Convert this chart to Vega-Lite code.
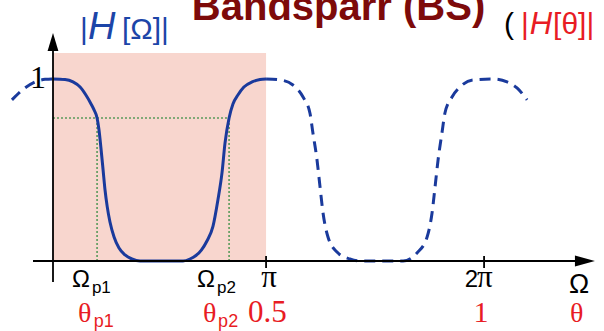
{
  "$schema": "https://vega.github.io/schema/vega-lite/v6.json",
  "width": 604,
  "height": 331,
  "padding": 0,
  "autosize": {"type": "none"},
  "background": "white",
  "config": {"view": {"stroke": null}},
  "encoding": {
    "x": {"field": "x", "type": "quantitative", "scale": {"domain": [-0.24651, 2.56279], "nice": false, "zero": false}, "axis": null},
    "y": {"field": "y", "type": "quantitative", "scale": {"domain": [-0.38462, 1.43407], "nice": false, "zero": false}, "axis": null}
  },
  "layer": [
    {
      "data": {"values": [{"x": 0, "x2": 0.991, "y": 0, "y2": 1.143}]},
      "mark": {"type": "rect", "color": "#f8d6ce"},
      "encoding": {"x2": {"field": "x2"}, "y2": {"field": "y2"}}
    },
    {
      "data": {"values": [
        {"x": 0, "x2": 0.819, "y": 0.786, "y2": 0.786},
        {"x": 0.205, "x2": 0.205, "y": 0, "y2": 0.786},
        {"x": 0.819, "x2": 0.819, "y": 0, "y2": 0.786}
      ]},
      "mark": {"type": "rule", "color": "#5a9a5a", "strokeWidth": 1.6, "strokeDash": [2, 2]},
      "encoding": {"x2": {"field": "x2"}, "y2": {"field": "y2"}}
    },
    {
      "data": {"values": [
        {"x": 0, "y": 1}, {"x": 0.056, "y": 0.997}, {"x": 0.093, "y": 0.984}, {"x": 0.126, "y": 0.956},
        {"x": 0.153, "y": 0.912}, {"x": 0.177, "y": 0.863}, {"x": 0.191, "y": 0.83}, {"x": 0.205, "y": 0.786},
        {"x": 0.214, "y": 0.72}, {"x": 0.223, "y": 0.621}, {"x": 0.233, "y": 0.5}, {"x": 0.242, "y": 0.39},
        {"x": 0.252, "y": 0.3}, {"x": 0.265, "y": 0.214}, {"x": 0.284, "y": 0.132}, {"x": 0.307, "y": 0.071},
        {"x": 0.335, "y": 0.033}, {"x": 0.367, "y": 0.011}, {"x": 0.405, "y": 0}, {"x": 0.605, "y": 0},
        {"x": 0.637, "y": 0.011}, {"x": 0.665, "y": 0.03}, {"x": 0.69, "y": 0.06}, {"x": 0.716, "y": 0.11},
        {"x": 0.744, "y": 0.19}, {"x": 0.767, "y": 0.335}, {"x": 0.786, "y": 0.484}, {"x": 0.8, "y": 0.648},
        {"x": 0.819, "y": 0.786}, {"x": 0.837, "y": 0.863}, {"x": 0.86, "y": 0.912}, {"x": 0.888, "y": 0.956},
        {"x": 0.926, "y": 0.984}, {"x": 0.963, "y": 0.997}, {"x": 0.991, "y": 1}
      ]},
      "mark": {"type": "line", "color": "#1a3a9c", "strokeWidth": 3, "interpolate": "monotone"}
    },
    {
      "data": {"values": [
        {"seg": "L", "x": -0.191, "y": 0.885}, {"seg": "L", "x": -0.13, "y": 0.951}, {"seg": "L", "x": -0.084, "y": 0.984},
        {"seg": "L", "x": -0.037, "y": 0.998}, {"seg": "L", "x": 0, "y": 1},
        {"seg": "R", "x": 0.991, "y": 1}, {"seg": "R", "x": 1.056, "y": 0.995}, {"seg": "R", "x": 1.116, "y": 0.967},
        {"seg": "R", "x": 1.163, "y": 0.901}, {"seg": "R", "x": 1.195, "y": 0.813}, {"seg": "R", "x": 1.209, "y": 0.703},
        {"seg": "R", "x": 1.228, "y": 0.555}, {"seg": "R", "x": 1.242, "y": 0.407}, {"seg": "R", "x": 1.256, "y": 0.264},
        {"seg": "R", "x": 1.279, "y": 0.132}, {"seg": "R", "x": 1.321, "y": 0.049}, {"seg": "R", "x": 1.381, "y": 0.011},
        {"seg": "R", "x": 1.428, "y": 0}, {"seg": "R", "x": 1.628, "y": 0}, {"seg": "R", "x": 1.693, "y": 0.044},
        {"seg": "R", "x": 1.74, "y": 0.132}, {"seg": "R", "x": 1.763, "y": 0.264}, {"seg": "R", "x": 1.777, "y": 0.407},
        {"seg": "R", "x": 1.791, "y": 0.555}, {"seg": "R", "x": 1.809, "y": 0.703}, {"seg": "R", "x": 1.823, "y": 0.813},
        {"seg": "R", "x": 1.856, "y": 0.901}, {"seg": "R", "x": 1.893, "y": 0.956}, {"seg": "R", "x": 1.953, "y": 0.995},
        {"seg": "R", "x": 2.047, "y": 1}, {"seg": "R", "x": 2.112, "y": 0.984}, {"seg": "R", "x": 2.158, "y": 0.951},
        {"seg": "R", "x": 2.205, "y": 0.885}
      ]},
      "mark": {"type": "line", "color": "#1a3a9c", "strokeWidth": 3, "strokeDash": [11, 7], "interpolate": "monotone"},
      "encoding": {"detail": {"field": "seg", "type": "nominal"}}
    },
    {
      "data": {"values": [
        {"x": -0.093, "x2": 2.46, "y": 0, "y2": 0},
        {"x": 0, "x2": 0, "y": -0.115, "y2": 1.17},
        {"x": 0.991, "x2": 0.991, "y": 0.027, "y2": -0.038},
        {"x": 2.005, "x2": 2.005, "y": 0.027, "y2": -0.038}
      ]},
      "mark": {"type": "rule", "color": "black", "strokeWidth": 1.8},
      "encoding": {"x2": {"field": "x2"}, "y2": {"field": "y2"}}
    },
    {
      "data": {"values": [{"x": 2.474, "y": 0}]},
      "mark": {"type": "point", "shape": "M1,0L-1,-0.55L-1,0.55Z", "size": 400, "filled": true, "color": "black", "opacity": 1}
    },
    {
      "data": {"values": [{"x": 0, "y": 1.203}]},
      "mark": {"type": "point", "shape": "M0,-1L-0.6,1L0.6,1Z", "size": 324, "filled": true, "color": "black", "opacity": 1}
    },
    {
      "data": {"values": [{"x": 1.328, "y": 1.324, "t": "Bandsparr (BS)"}]},
      "mark": {"type": "text", "font": "Liberation Sans", "fontSize": 40, "fontWeight": "bold", "color": "#7d0a0a", "align": "center", "baseline": "alphabetic"},
      "encoding": {"text": {"field": "t"}}
    },
    {
      "data": {"values": [{"x": 0.126, "y": 1.22, "t": "|"}, {"x": 0.321, "y": 1.22, "t": "[Ω]|"}]},
      "mark": {"type": "text", "font": "Liberation Sans", "fontSize": 30, "color": "#1c45a8", "align": "left", "baseline": "alphabetic"},
      "encoding": {"text": {"field": "t"}}
    },
    {
      "data": {"values": [{"x": 0.163, "y": 1.22, "t": "H"}]},
      "mark": {"type": "text", "font": "Liberation Sans", "fontSize": 38, "fontStyle": "italic", "color": "#1c45a8", "align": "left", "baseline": "alphabetic"},
      "encoding": {"text": {"field": "t"}}
    },
    {
      "data": {"values": [{"x": 2.098, "y": 1.247, "t": "("}]},
      "mark": {"type": "text", "font": "Liberation Sans", "fontSize": 30, "color": "black", "align": "left", "baseline": "alphabetic"},
      "encoding": {"text": {"field": "t"}}
    },
    {
      "data": {"values": [{"x": 2.177, "y": 1.247, "t": "|"}, {"x": 2.326, "y": 1.247, "t": "[θ]|"}]},
      "mark": {"type": "text", "font": "Liberation Sans", "fontSize": 30, "color": "#e81c24", "align": "left", "baseline": "alphabetic"},
      "encoding": {"text": {"field": "t"}}
    },
    {
      "data": {"values": [{"x": 2.217, "y": 1.247, "t": "H"}]},
      "mark": {"type": "text", "font": "Liberation Sans", "fontSize": 31, "fontStyle": "italic", "color": "#e81c24", "align": "left", "baseline": "alphabetic"},
      "encoding": {"text": {"field": "t"}}
    },
    {
      "data": {"values": [{"x": -0.07, "y": 0.952, "t": "1"}]},
      "mark": {"type": "text", "font": "Liberation Serif", "fontSize": 32, "color": "black", "align": "center", "baseline": "alphabetic"},
      "encoding": {"text": {"field": "t"}}
    },
    {
      "data": {"values": [{"x": 0.088, "y": -0.143, "t": "Ω"}, {"x": 0.67, "y": -0.143, "t": "Ω"}]},
      "mark": {"type": "text", "font": "Liberation Sans", "fontSize": 24, "color": "black", "align": "left", "baseline": "alphabetic"},
      "encoding": {"text": {"field": "t"}}
    },
    {
      "data": {"values": [{"x": 0.181, "y": -0.176, "t": "p1"}, {"x": 0.763, "y": -0.176, "t": "p2"}]},
      "mark": {"type": "text", "font": "Liberation Sans", "fontSize": 17, "color": "black", "align": "left", "baseline": "alphabetic"},
      "encoding": {"text": {"field": "t"}}
    },
    {
      "data": {"values": [{"x": 1.005, "y": -0.143, "t": "π"}]},
      "mark": {"type": "text", "font": "Liberation Serif", "fontSize": 31, "color": "black", "align": "center", "baseline": "alphabetic"},
      "encoding": {"text": {"field": "t"}}
    },
    {
      "data": {"values": [{"x": 1.972, "y": -0.143, "t": "π"}]},
      "mark": {"type": "text", "font": "Liberation Serif", "fontSize": 31, "color": "black", "align": "left", "baseline": "alphabetic"},
      "encoding": {"text": {"field": "t"}}
    },
    {
      "data": {"values": [{"x": 1.977, "y": -0.143, "t": "2"}]},
      "mark": {"type": "text", "font": "Liberation Sans", "fontSize": 24, "color": "black", "align": "right", "baseline": "alphabetic"},
      "encoding": {"text": {"field": "t"}}
    },
    {
      "data": {"values": [{"x": 2.4, "y": -0.176, "t": "Ω"}]},
      "mark": {"type": "text", "font": "Liberation Sans", "fontSize": 27, "color": "black", "align": "left", "baseline": "alphabetic"},
      "encoding": {"text": {"field": "t"}}
    },
    {
      "data": {"values": [{"x": 0.116, "y": -0.335, "t": "θ"}, {"x": 0.698, "y": -0.335, "t": "θ"}, {"x": 2.405, "y": -0.335, "t": "θ"}]},
      "mark": {"type": "text", "font": "Liberation Serif", "fontSize": 28, "color": "#e81c24", "align": "left", "baseline": "alphabetic"},
      "encoding": {"text": {"field": "t"}}
    },
    {
      "data": {"values": [{"x": 0.19, "y": -0.363, "t": "p1"}, {"x": 0.768, "y": -0.363, "t": "p2"}]},
      "mark": {"type": "text", "font": "Liberation Sans", "fontSize": 18, "color": "#e81c24", "align": "left", "baseline": "alphabetic"},
      "encoding": {"text": {"field": "t"}}
    },
    {
      "data": {"values": [{"x": 0.907, "y": -0.335, "t": "0.5"}]},
      "mark": {"type": "text", "font": "Liberation Serif", "fontSize": 31, "color": "#e81c24", "align": "left", "baseline": "alphabetic"},
      "encoding": {"text": {"field": "t"}}
    },
    {
      "data": {"values": [{"x": 1.991, "y": -0.335, "t": "1"}]},
      "mark": {"type": "text", "font": "Liberation Serif", "fontSize": 30, "color": "#e81c24", "align": "center", "baseline": "alphabetic"},
      "encoding": {"text": {"field": "t"}}
    }
  ]
}
